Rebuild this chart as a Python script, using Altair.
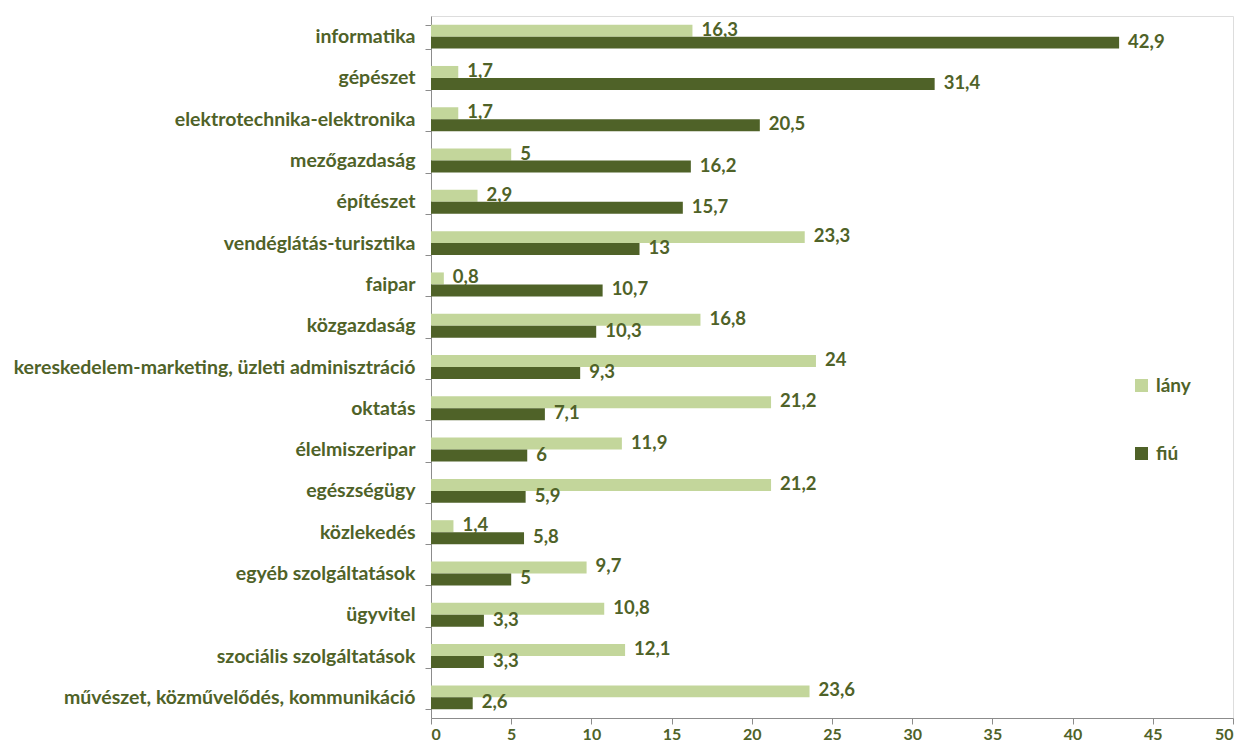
import altair as alt
import pandas as pd

categories = ["informatika", "gépészet", "elektrotechnika-elektronika", "mezőgazdaság",
              "építészet", "vendéglátás-turisztika", "faipar", "közgazdaság",
              "kereskedelem-marketing, üzleti adminisztráció", "oktatás", "élelmiszeripar",
              "egészségügy", "közlekedés", "egyéb szolgáltatások", "ügyvitel",
              "szociális szolgáltatások", "művészet, közművelődés, kommunikáció"]
lany = [16.3, 1.7, 1.7, 5, 2.9, 23.3, 0.8, 16.8, 24, 21.2, 11.9, 21.2, 1.4, 9.7, 10.8, 12.1, 23.6]
fiu = [42.9, 31.4, 20.5, 16.2, 15.7, 13, 10.7, 10.3, 9.3, 7.1, 6, 5.9, 5.8, 5, 3.3, 3.3, 2.6]
series = ["lány", "fiú"]
x_ticks = [0, 5, 10, 15, 20, 25, 30, 35, 40, 45, 50]

rows = []
for c, a, b in zip(categories, lany, fiu):
    for s, v in zip(series, (a, b)):
        lab = ("%g" % v).replace(".", ",")
        rows.append({"kat": c, "nem": s, "ertek": v, "cimke": lab})
df = pd.DataFrame(rows)

TXT = "#4F6228"
FONT = "Lato"

y_enc = alt.Y("kat:N", sort=categories, title=None,
              scale=alt.Scale(paddingInner=0.42, paddingOuter=0.21),
              axis=alt.Axis(tickBand="extent", labelFont=FONT, labelFontSize=19.5,
                            labelFontWeight="bold", labelColor=TXT, labelPadding=10,
                            tickSize=6, tickColor="#8C8C8C", domainColor="#8C8C8C",
                            labelLimit=600))
yoff = alt.YOffset("nem:N", sort=series)
x_enc = alt.X("ertek:Q", title=None,
              scale=alt.Scale(domain=[0, 50], nice=False),
              axis=alt.Axis(values=x_ticks, grid=False, labelFont=FONT, labelFontSize=16,
                            labelFontWeight="bold", labelColor=TXT, labelPadding=2,
                            tickSize=6, tickColor="#8C8C8C", domainColor="#8C8C8C"))

bars = alt.Chart(df).mark_bar().encode(
    y=y_enc, yOffset=yoff, x=x_enc,
    color=alt.Color("nem:N", sort=series,
                    scale=alt.Scale(domain=series, range=["#C3D69B", "#4F6228"]),
                    legend=alt.Legend(title=None, orient="none", legendX=701, legendY=360,
                                      symbolType="square", symbolSize=170,
                                      symbolStrokeWidth=0, rowPadding=48,
                                      labelFont=FONT, labelFontSize=19,
                                      labelFontWeight="bold", labelColor=TXT,
                                      labelOffset=5))
)

texts = alt.Chart(df).mark_text(align="left", baseline="middle", dx=9, dy=-1, font=FONT,
                                 fontSize=18.5, fontWeight="bold", color=TXT).encode(
    y=alt.Y("kat:N", sort=categories), yOffset=yoff, x="ertek:Q", text="cimke:N"
)

chart = alt.layer(bars, texts).properties(
    width=802, height=702,
    autosize=alt.AutoSizeParams(type="none"),
    padding={"left": 423, "top": 8, "right": 9, "bottom": 26},
).configure_view(stroke=None).configure(background="white")

chart.save("out.html", embed_options={"renderer": "svg", "actions": False})
